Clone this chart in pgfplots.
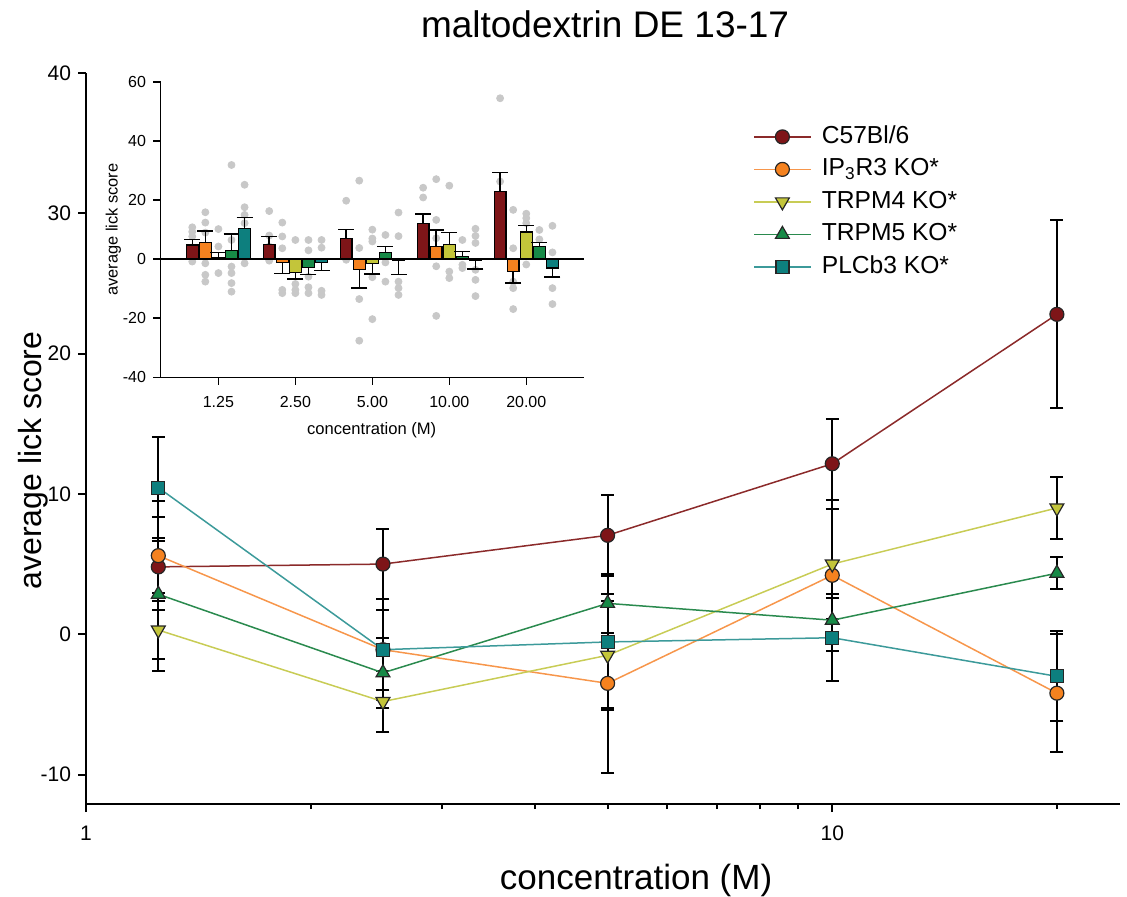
\documentclass[border=0pt]{standalone}
\usepackage{pgfplots}
\pgfplotsset{compat=1.18}
\usepackage{fontspec}
\setmainfont{Liberation Sans}

\definecolor{c57fill}{RGB}{126,21,24}
\definecolor{c57line}{RGB}{139,42,42}
\definecolor{ipfill}{RGB}{245,130,31}
\definecolor{ipline}{RGB}{247,150,75}
\definecolor{m4fill}{RGB}{195,197,58}
\definecolor{m4line}{RGB}{200,204,85}
\definecolor{m5fill}{RGB}{23,138,71}
\definecolor{m5line}{RGB}{42,138,78}
\definecolor{plcfill}{RGB}{13,127,126}
\definecolor{plcline}{RGB}{60,154,154}
\definecolor{dotgray}{RGB}{200,200,200}

\pgfplotsset{
  mainerr/.style={error bars/.cd, y dir=both, y explicit,
    error bar style={black, line width=1pt},
    error mark options={rotate=90, black, line width=1pt, mark size=3.25pt}},
  insbar/.style={ybar, bar width=0.152, bar shift=0pt, fill=#1, draw=black, line width=0.6pt,
    error bars/.cd, y dir=plus, y explicit,
    error bar style={black, line width=0.75pt},
    error mark options={rotate=90, black, line width=0.75pt, mark size=4pt}},
}

\begin{document}
\begin{tikzpicture}
\begin{axis}[
  name=main, at={(0,0)}, anchor=south west,
  width=517pt, height=365.5pt, scale only axis,
  xmode=log, xmin=1, xmax=24.3, ymin=-12.1, ymax=40,
  axis x line*=bottom, axis y line*=left,
  axis line style={-, line width=1pt},
  tick align=outside, tick style={black, line width=1pt},
  major tick length=4pt, minor tick length=2.5pt,
  xtick={1,10}, xticklabels={1,10},
  minor xtick={2,3,4,5,6,7,8,9,20},
  ytick={-10,0,...,40},
  /pgf/number format/assume math mode=true,
  tick label style={font=\fontsize{10.5}{12}\selectfont},
  xticklabel style={yshift=-3.5pt},
  title={maltodextrin DE 13-17},
  every axis title shift=0pt,
  title style={at={(axis description cs:0.502,1.066)}, anchor=center, yshift=0pt, font=\fontsize{18.5}{22}\selectfont},
  xlabel={concentration (M)},
  xlabel style={at={(axis description cs:0.532,-0.104)}, anchor=center, font=\fontsize{17.5}{21}\selectfont},
  ylabel={average lick score},
  ylabel style={at={(axis description cs:-0.0513,0.47)}, anchor=center, font=\fontsize{16}{19}\selectfont},
  legend style={at={(axis description cs:0.645,0.933)}, anchor=north west, draw=none, fill=none,
    inner sep=0pt, row sep=1.75pt, column sep=3.7pt,
    font=\fontsize{12.3}{14}\selectfont,
    nodes={inner sep=1.5pt, text height=9pt, text depth=2.5pt, anchor=west}},
  legend cell align=left,
  legend image code/.code={\draw[mark repeat=2, mark phase=2] plot coordinates {(0pt,0pt) (14.15pt,0pt) (28.3pt,0pt)};},
]
\addplot[c57line, line width=0.75pt, mark=*, mark size=3.5pt,
  mark options={fill=c57fill, draw=black!85, line width=0.6pt}, mainerr]
  coordinates {(1.25,4.8) +- (0,1.85) (2.5,5.0) +- (0,2.5) (5,7.05) +- (0,2.85) (10,12.15) +- (0,3.2) (20,22.8) +- (0,6.7)};
\addplot[ipline, line width=0.75pt, mark=*, mark size=3.5pt,
  mark options={fill=ipfill, draw=black!85, line width=0.6pt}, mainerr]
  coordinates {(1.25,5.6) +- (0,3.9) (2.5,-1.1) +- (0,3.6) (5,-3.5) +- (0,6.4) (10,4.2) +- (0,5.4) (20,-4.2) +- (0,4.2)};
\addplot[m4line, line width=0.75pt, mark=triangle*, mark size=4pt,
  mark options={fill=m4fill, draw=black!85, line width=0.6pt, rotate=180}, mainerr]
  coordinates {(1.25,0.3) +- (0,2.1) (2.5,-4.8) +- (0,2.2) (5,-1.5) +- (0,3.9) (10,5.0) +- (0,3.9) (20,9.0) +- (0,2.2)};
\addplot[m5line, line width=0.75pt, mark=triangle*, mark size=4pt,
  mark options={fill=m5fill, draw=black!85, line width=0.6pt}, mainerr]
  coordinates {(1.25,2.85) +- (0,5.5) (2.5,-2.75) +- (0,2.5) (5,2.2) +- (0,2.1) (10,1.0) +- (0,1.6) (20,4.35) +- (0,1.15)};
\addplot[plcline, line width=0.75pt, mark=square*, mark size=3.25pt,
  mark options={fill=plcfill, draw=black!85, line width=0.6pt}, mainerr]
  coordinates {(1.25,10.45) +- (0,3.6) (2.5,-1.1) +- (0,2.85) (5,-0.55) +- (0,4.7) (10,-0.25) +- (0,3.1) (20,-3.0) +- (0,3.2)};
\legend{C57Bl/6, IP\textsubscript{3}R3 KO*, TRPM4 KO*, TRPM5 KO*, PLCb3 KO*}
\end{axis}

\begin{axis}[
  at={(37.35pt,213.35pt)}, anchor=south west,
  width=211.65pt, height=147.65pt, scale only axis,
  clip marker paths=true,
  xmin=-0.75, xmax=4.75, ymin=-40, ymax=60,
  axis x line*=bottom, axis y line*=left,
  axis line style={-, line width=0.75pt},
  tick align=outside, tick style={black, line width=0.75pt},
  major tick length=3.8pt,
  xtick={0,...,4}, xticklabels={1.25,2.50,5.00,10.00,20.00},
  ytick={-40,-20,...,60},
  /pgf/number format/assume math mode=true,
  tick label style={font=\fontsize{8}{9.5}\selectfont},
  xticklabel style={yshift=-2.3pt},
  xlabel={concentration (M)},
  xlabel style={at={(axis description cs:0.4985,0)}, yshift=-26.35pt, anchor=center, font=\fontsize{8.3}{10}\selectfont},
  ylabel={average lick score},
  ylabel style={at={(axis description cs:-0.112,0.5)}, anchor=center, font=\fontsize{8.2}{10}\selectfont},
]
% individual animals
\addplot[only marks, mark=*, mark size=1.75pt, color=dotgray] coordinates {
  (-0.34,10.8) (-0.34,9.3) (-0.34,7.7) (-0.34,4.0) (-0.34,2.0) (-0.34,-0.8)
  (0.66,16.3) (0.66,8.0) (0.66,4.3) (0.66,-0.5)
  (1.66,19.8) (1.66,6.0) (1.66,-0.2)
  (2.66,24.2) (2.66,20.9) (2.66,10.0) (2.66,3.0)
  (3.66,54.5) (3.66,26.3) (3.66,15.0)
  (-0.17,15.9) (-0.17,12.4) (-0.17,9.0) (-0.17,-1.4) (-0.17,-5.3) (-0.17,-7.6)
  (0.83,12.4) (0.83,7.7) (0.83,3.7) (0.83,-10.4) (0.83,-11.5)
  (1.83,26.6) (1.83,3.8) (1.83,-13.5) (1.83,-27.6)
  (2.83,27.1) (2.83,13.3) (2.83,7.1) (2.83,-2.4) (2.83,-19.2)
  (3.83,16.7) (3.83,3.7) (3.83,-7.6) (3.83,-9.8) (3.83,-16.9)
  (0,10.2) (0,4.3) (0,-4.7)
  (1,6.5) (1,-8.4) (1,-10.4) (1,-11.5)
  (2,10.0) (2,7.0) (2,6.0) (2,-6.1) (2,-20.3)
  (3,24.9) (3,-4.2) (3,-6.4)
  (4,15.4) (4,13.9) (4,12.2) (4,-1.8)
  (0.17,31.9) (0.17,6.5) (0.17,-2.5) (0.17,-4.7) (0.17,-8.1) (0.17,-11.0)
  (1.17,6.5) (1.17,3.0) (1.17,-1.4) (1.17,-5.9) (1.17,-9.5) (1.17,-11.5)
  (2.17,8.2) (2.17,-1.1) (2.17,-7.6)
  (3.17,6.5) (3.17,-1.9) (3.17,-3.0)
  (4.17,9.9) (4.17,6.7)
  (0.34,25.2) (0.34,17.6) (0.34,15.0) (0.34,12.2) (0.34,-1.4)
  (1.34,6.5) (1.34,3.9) (1.34,-10.7) (1.34,-12.1)
  (2.34,15.8) (2.34,7.8) (2.34,-7.6) (2.34,-9.8) (2.34,-12.1)
  (3.34,10.3) (3.34,7.9) (3.34,5.5) (3.34,-3.6) (3.34,-7.0) (3.34,-12.5)
  (4.34,11.3) (4.34,2.3) (4.34,-9.8) (4.34,-15.2)
};
% group means, error drawn away from zero
\addplot[insbar=c57fill] coordinates {(-0.34,4.8) +- (0,1.85) (0.66,5.0) +- (0,2.6) (1.66,7.05) +- (0,3.0) (2.66,12.15) +- (0,3.2) (3.66,22.8) +- (0,6.6)};
\addplot[insbar=ipfill] coordinates {(-0.17,5.6) +- (0,3.9) (0.83,-1.1) +- (0,-3.8) (1.83,-3.5) +- (0,-6.3) (2.83,4.2) +- (0,5.7) (3.83,-4.2) +- (0,-3.9)};
\addplot[insbar=m4fill] coordinates {(0,0.6) +- (0,1.7) (1,-4.6) +- (0,-2.1) (2,-1.5) +- (0,-3.6) (3,5.0) +- (0,4.0) (4,9.2) +- (0,2.2)};
\addplot[insbar=m5fill] coordinates {(0.17,2.85) +- (0,5.6) (1.17,-2.75) +- (0,-2.4) (2.17,2.2) +- (0,2.1) (3.17,1.0) +- (0,1.6) (4.17,4.35) +- (0,1.3)};
\addplot[insbar=plcfill] coordinates {(0.34,10.5) +- (0,3.6) (1.34,-1.0) +- (0,-2.8) (2.34,-0.55) +- (0,-4.7) (3.34,-0.3) +- (0,-3.0) (4.34,-3.0) +- (0,-3.1)};
\addplot[black, line width=0.75pt] coordinates {(-0.75,0) (4.75,0)};
\end{axis}

\pgfresetboundingbox
\path ([shift={(-43pt,-46pt)}]main.south west) rectangle ([shift={(520.5pt,402pt)}]main.south west);
\end{tikzpicture}
\end{document}
